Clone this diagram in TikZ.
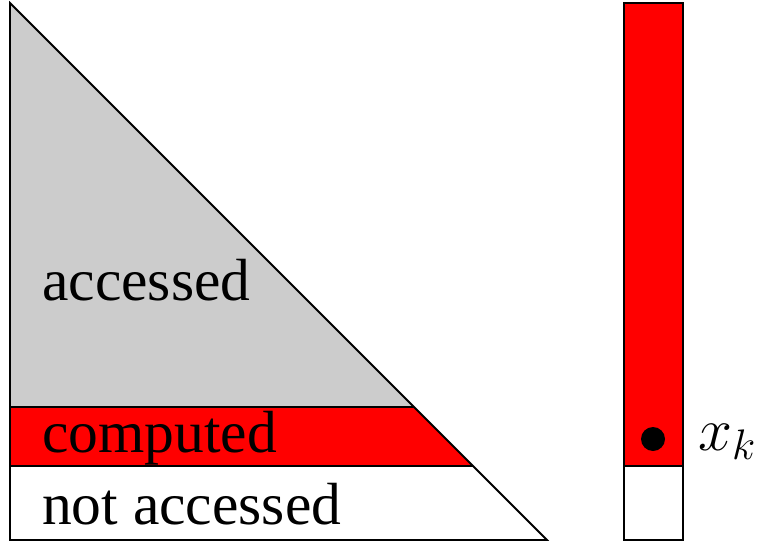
\RequirePackage{fix-cm}
\documentclass[tikz,border=0pt]{standalone}
\usepackage{fontspec}
\setmainfont{Liberation Serif}
\usetikzlibrary{positioning}

\begin{document}
\begin{tikzpicture}[
    x=1pt, y=-1pt,
    regionText/.style={%
      anchor=base west,
      inner sep=0pt,
      font=\fontsize{59.5}{62}\selectfont,
    },
    edge/.style={%
      draw=black,
      line width=1.8pt,
    },
  ]
    \useasboundingbox (0,0) rectangle (764,541);

    % triangular matrix
    \coordinate (T) at (10,3);
    \coordinate (BL) at (10,540);
    \coordinate (BR) at (547,540);
    \coordinate (G1) at (10,407);
    \coordinate (G2) at (414,407);
    \coordinate (R1) at (10,466);
    \coordinate (R2) at (473,466);

    \fill [black!20] (T) -- (G2) -- (G1) -- cycle;
    \fill [red] (G1) -- (G2) -- (R2) -- (R1) -- cycle;
    \draw [edge] (T) -- (BR) -- (BL) -- cycle;
    \draw [line width=1.2pt] (G1) -- (G2);
    \draw [line width=1.2pt] (R1) -- (R2);

    \node [regionText] (acc) at (42,300) {accessed};
    \node [regionText] (comp) at (42,452) {computed};
    \node [regionText] (notacc) at (42,524) {not accessed};

    % vector
    \fill [red] (624,3) rectangle (683,466);
    \draw [line width=1.2pt] (624,3) rectangle (683,540);
    \draw [line width=1.2pt] (624,466) -- (683,466);
    \fill (653,439) circle (12);
    \node [anchor=west, inner sep=0pt, font=\fontsize{61}{64}\selectfont] (xk) at (698,442) {$x_k$};
\end{tikzpicture}
\end{document}
